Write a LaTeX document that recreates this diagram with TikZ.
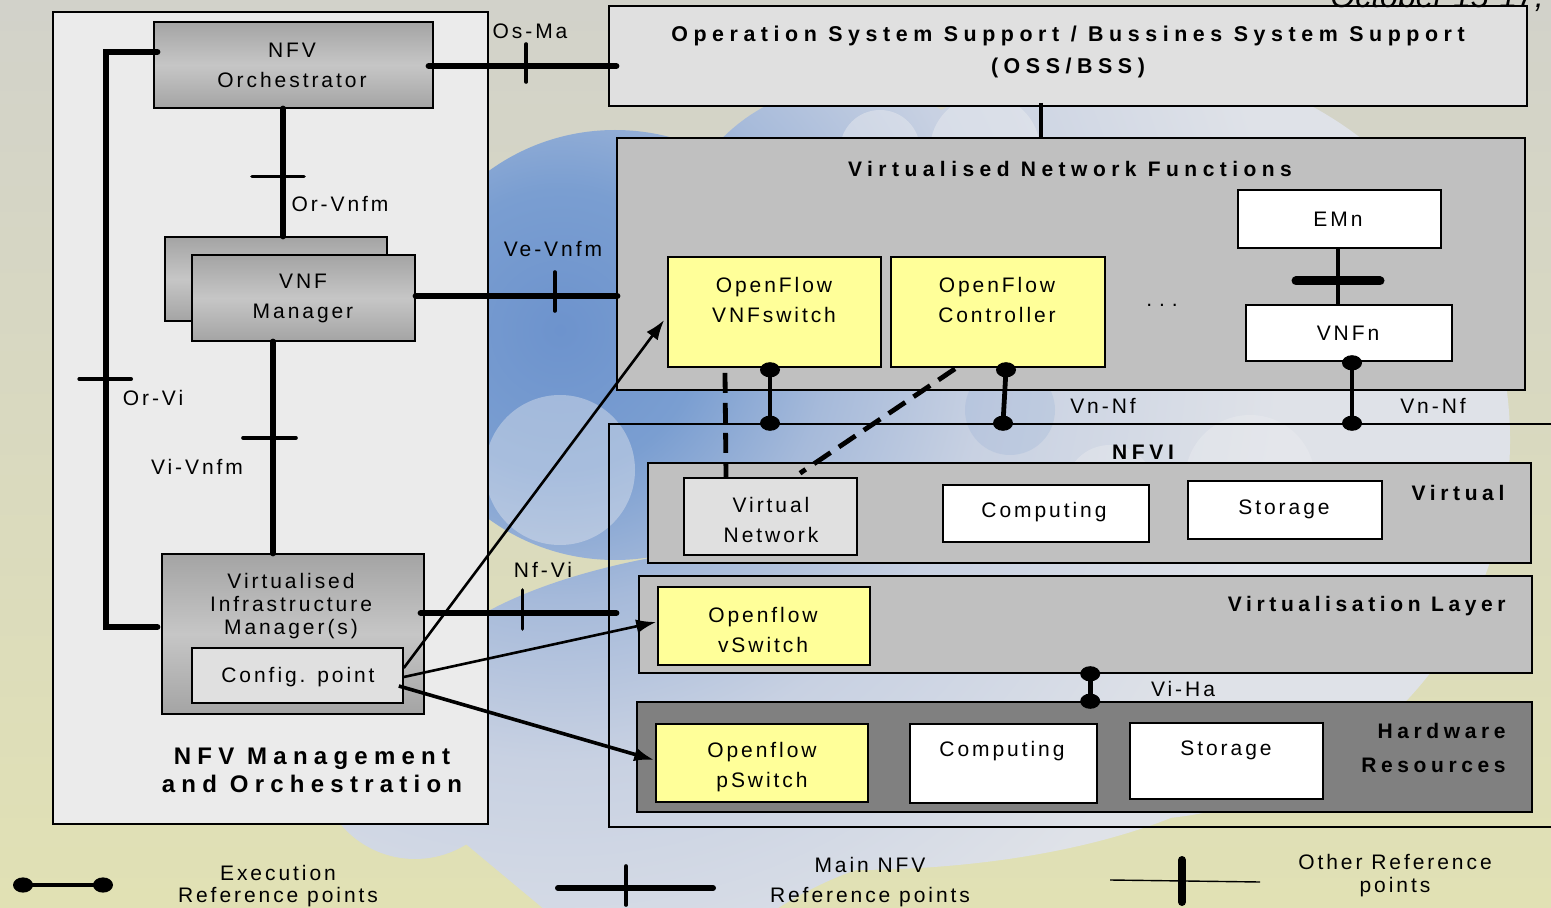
\documentclass[tikz,border=0pt]{standalone}
\usepackage{fontspec}
\setmainfont{Liberation Sans}[LetterSpace=14]
\newfontfamily\hdfont{Liberation Sans}[LetterSpace=22]
\newfontfamily\hdwide{Liberation Sans}[LetterSpace=26]
\newfontfamily\datefont{Liberation Sans Italic}
\usetikzlibrary{fit,calc,arrows.meta}

\definecolor{bgtop}{HTML}{D2D2CA}
\definecolor{bgbot}{HTML}{E1E1B4}
\definecolor{cloudD}{HTML}{6D93CD}
\definecolor{cloudD2}{HTML}{7A9ED1}
\definecolor{cloudM}{HTML}{A6BADA}
\definecolor{cloudL}{HTML}{C8D1E2}
\definecolor{cloudR}{HTML}{DFE2E8}
\definecolor{puff}{HTML}{ECEDF0}
\definecolor{panel}{HTML}{EBEBEB}
\definecolor{lightbox}{HTML}{E0E0E0}
\definecolor{midgray}{HTML}{C0C0C0}
\definecolor{hwgray}{HTML}{808080}
\definecolor{ofyellow}{HTML}{FFFF99}
\definecolor{mgrA}{HTML}{A4A4A4}
\definecolor{mgrB}{HTML}{C6C6C6}

% concentric colours around the darkest part of the cloud (radii in real size)
\pgfdeclareradialshading{cloudshade}{\pgfpoint{0bp}{0bp}}{%
  color(0bp)=(cloudD); color(70bp)=(cloudD2); color(135bp)=(cloudM);
  color(215bp)=(cloudL); color(360bp)=(cloudR); color(600bp)=(cloudR)}

\newcommand\execlink[3][2.4pt]{%
  \draw[line width=#1] (#2) -- (#3);
  \fill (#2) ellipse[x radius=5pt, y radius=3.8pt];
  \fill (#3) ellipse[x radius=5pt, y radius=3.8pt];}

\tikzset{
  box/.style={draw=black, line width=0.8pt, inner sep=0pt},
  mgr/.style={box, top color=mgrA, bottom color=mgrA, middle color=mgrB},
  lbl/.style={font=\fontsize{10.5}{15}\selectfont, align=center, inner sep=0pt},
  ttl/.style={font=\hdfont\bfseries\fontsize{10.5}{16}\selectfont, align=center, inner sep=0pt},
  wttl/.style={ttl, font=\hdwide\bfseries\fontsize{10.5}{16}\selectfont},
  mainlink/.style={line width=3.2pt, line cap=round},
  mtick/.style={line width=1.8pt, line cap=round},
  dsh/.style={line width=2.4pt, dash pattern=on 10pt off 5pt},
  cfgarrow/.style={line width=1.3pt, -{Latex[length=10pt,width=7pt]}},
}

\begin{document}
\begin{tikzpicture}[x=0.5pt,y=-0.5pt]
\useasboundingbox (0,0) rectangle (1551,908);

% backdrop and cloud
\shade[top color=bgtop, bottom color=bgbot] (0,0) rectangle (1551,908);
\begin{scope}
  \clip
    (615,345) circle[radius=215]
    (850,265) circle[radius=180]
    (1110,260) circle[radius=185]
    (1130,440) circle[radius=380]
    (850,705) ellipse[x radius=440, y radius=165]
    (415,762) circle[radius=97]
    (455,780) -- (935,780) -- (935,853) .. controls (880,858) and (830,875) .. (775,910)
    -- (545,910) -- (455,835) -- cycle;
  \node[inner sep=0pt] (cloud) at (560,330) {\pgfuseshading{cloudshade}};
  \fill[puff, opacity=0.4] (560,470) circle[radius=75];
  \fill[puff, opacity=0.45] (880,150) circle[radius=40] (985,150) circle[radius=55];
  \fill[puff, opacity=0.4] (1250,480) circle[radius=65] (1110,490) circle[radius=45];
  \fill[cloudD, opacity=0.15] (1010,410) circle[radius=45];
\end{scope}

% management and orchestration block
\node[box, fill=panel, fit={(53,12) (488,824)}] (mano) {};
\node[mgr, fit={(154,22) (433,108)}] (orch) {};
\node[lbl] (orcht) at (292,65) {NFV\\Orchestrator};
\node[mgr, fit={(165,237) (387,321)}] (vnfmb) {};
\node[mgr, fit={(192,255) (415,341)}] (vnfm) {};
\node[lbl] (vnfmt) at (303,298) {VNF\\Manager};
\node[mgr, fit={(162,554) (424,714)}] (vim) {};
\node[lbl, font=\fontsize{10.5}{11.5}\selectfont] (vimt) at (291,606) {Virtualised\\Infrastructure\\Manager(s)};
\node[box, fill=lightbox, fit={(192,648) (403,703)}] (cfg) {};
\node[lbl] (cfgt) at (298,677) {Config. point};
\node[wttl, font=\hdwide\bfseries\fontsize{12}{14}\selectfont] (manot) at (312,770) {NFV Management\\and Orchestration};

% OSS/BSS
\node[box, fill=lightbox, fit={(609,6) (1527,106)}] (oss) {};
\node[wttl, font=\hdwide\bfseries\fontsize{10.7}{16}\selectfont] (osst) at (1068,52) {Operation System Support / Bussines System Support\\(OSS/BSS)};

% virtualised network functions
\node[box, fill=midgray, fit={(617,138) (1525,390)}] (vnf) {};
\node[wttl] (vnft) at (1070,169) {Virtualised Network Functions};
\node[box, fill=ofyellow, fit={(668,257) (881,367)}] (vnfsw) {};
\node[lbl] (vnfswt) at (774,300) {OpenFlow\\VNFswitch};
\node[box, fill=ofyellow, fit={(891,257) (1105,367)}] (ctrl) {};
\node[lbl] (ctrlt) at (997,300) {OpenFlow\\Controller};
\node[lbl] (dots) at (1162,305) {.\,\,.\,\,.};
\node[box, fill=white, fit={(1238,190) (1441,248)}] (emn) {};
\node[lbl] (emnt) at (1338,219) {EMn};
\node[box, fill=white, fit={(1246,305) (1452,361)}] (vnfn) {};
\node[lbl] (vnfnt) at (1348,333) {VNFn};

% NFVI
\node[box, fit={(609,424) (1575,827)}] (nfvi) {};
\node[ttl] (nfvit) at (1143,452) {NFVI};
\node[box, fill=midgray, fit={(648,463) (1531,563)}] (virt) {};
\node[ttl] (virtt) at (1458,493) {Virtual};
\node[box, fill=lightbox, fit={(684,478) (857,555)}] (vnet) {};
\node[lbl] (vnett) at (771,520) {Virtual\\Network};
\node[box, fill=white, fit={(943,485) (1149,542)}] (vcomp) {};
\node[lbl] (vcompt) at (1044,512) {Computing};
\node[box, fill=white, fit={(1188,481) (1382,539)}] (vstor) {};
\node[lbl] (vstort) at (1284,509) {Storage};

\node[box, fill=midgray, fit={(639,576) (1532,673)}] (vl) {};
\node[ttl, anchor=east] (vlt) at (1506,606) {Virtualisation Layer};
\node[box, fill=ofyellow, fit={(658,587) (870,665)}] (vsw) {};
\node[lbl] (vswt) at (763,630) {Openflow\\vSwitch};

\node[box, fill=hwgray, fit={(637,702) (1532,812)}] (hw) {};
\node[ttl, anchor=east, align=right, font=\hdfont\bfseries\fontsize{10.5}{17}\selectfont] (hwt) at (1506,748) {Hardware\\Resources};
\node[box, fill=ofyellow, fit={(656,724) (868,802)}] (psw) {};
\node[lbl] (pswt) at (762,767) {Openflow\\pSwitch};
\node[box, fill=white, fit={(910,724) (1097,803)}] (hcomp) {};
\node[lbl] (hcompt) at (1002,751) {Computing};
\node[box, fill=white, fit={(1130,723) (1323,799)}] (hstor) {};
\node[lbl] (hstort) at (1226,750) {Storage};

% main reference points
\draw[mainlink] ($(orch.east)+(-5,1)$) -- ($(orch.east -| oss.west)+(8,1)$) coordinate[pos=0.52] (osmaT);
\draw[mtick] ($(osmaT)+(0,-22)$) -- ($(osmaT)+(0,16)$);
\draw[mainlink] ($(vnfm.east)+(0,-2)$) -- ($(vnfm.east -| vnf.west)+(1,-2)$) coordinate[pos=0.69] (vevT);
\draw[mtick] ($(vevT)+(0,-24)$) -- ($(vevT)+(0,15)$);
\draw[mainlink] ($(vim.east)+(-4,-21)$) -- ($(vim.east -| nfvi.west)+(8,-21)$) coordinate[pos=0.52] (nfviT);
\draw[mtick] ($(nfviT)+(0,-23)$) -- ($(nfviT)+(0,16)$);
\coordinate (orvnA) at ($(orch.south)+(-10.5,0)$);
\draw[mainlink] (orvnA) -- (orvnA |- vnfmb.north) coordinate[pos=0.53] (orvnT);
\draw[mtick] ($(orvnT)+(-31,0)$) -- ($(orvnT)+(21,0)$);
\coordinate (vivnA) at ($(vnfm.south)+(-30.5,0)$);
\draw[mainlink] (vivnA) -- (vivnA |- vim.north) coordinate[pos=0.455] (vivnT);
\draw[mtick] ($(vivnT)+(-30,0)$) -- ($(vivnT)+(23,0)$);
\draw[mainlink] ($(orch.west)+(4,-13)$) -- ++(-51,0) |- ($(vim.west)+(-4,-7)$);
\coordinate (orviT) at ($(orch.west)+(-47,314)$);
\draw[mtick] ($(orviT)+(-27,0)$) -- ($(orviT)+(25,0)$);

% other reference points
\coordinate (ossv) at ($(oss.south)+(-27,-4)$);
\draw[line width=2pt] (ossv) -- (ossv |- vnf.north);
\coordinate (emA) at ($(emn.south)+(-1.5,0)$);
\draw[line width=2pt] (emA) -- (emA |- vnfn.north) coordinate[pos=0.58] (emT);
\draw[line width=4.5pt, line cap=round] ($(emT)+(-42,0)$) -- ($(emT)+(42,0)$);

% execution reference points
\coordinate (x1a) at ($(vnfsw.south)+(-4.5,2)$);
\coordinate (x1b) at (x1a |- nfvi.north);
\coordinate (x2a) at ($(ctrl.south)+(8,2)$);
\coordinate (x2b) at ($(ctrl.south |- nfvi.north)+(5,0)$);
\coordinate (x3a) at ($(vnfn.south)+(3,1)$);
\coordinate (x3b) at (x3a |- nfvi.north);
\coordinate (x4a) at ($(vl.south west)+(452,0)$);
\coordinate (x4b) at (x4a |- hw.north);
\execlink{x1a}{x1b}
\execlink{x2a}{x2b}
\execlink{x3a}{x3b}
\execlink{x4a}{x4b}

% OpenFlow control paths
\draw[dsh] ($(vnfsw.south)+(-49.5,5)$) -- ($(vnet.north)+(-44.5,0)$);
\draw[dsh] ($(ctrl.south)+(-43,1)$) -- ($(vnet.north)+(29.5,-4)$);
\draw[cfgarrow] ($(cfg.east)+(0,-7.5)$) -- ($(vnfsw.west)+(-3,8)$);
\draw[cfgarrow] ($(cfg.east)+(0,1.5)$) -- ($(vsw.west)+(-1,-4)$);
\draw[cfgarrow, line width=1.8pt] ($(cfg.east)+(-5,10.5)$) -- ($(psw.west)+(-1,-3)$);

% reference point names
\node[lbl] (osma) at (530,31) {Os-Ma};
\node[lbl] (orvnfm) at (340,204) {Or-Vnfm};
\node[lbl] (vevnfm) at (553,249) {Ve-Vnfm};
\node[lbl] (orvi) at (153,398) {Or-Vi};
\node[lbl] (vivnfm) at (197,467) {Vi-Vnfm};
\node[lbl] (nfvil) at (543,570) {Nf-Vi};
\node[lbl] (vnnf1) at (1103,406) {Vn-Nf};
\node[lbl] (vnnf2) at (1433,406) {Vn-Nf};
\node[lbl] (viha) at (1183,689) {Vi-Ha};

% legend
\coordinate (le1) at (23,885);
\coordinate (le2) at (103,885);
\execlink[1.6pt]{le1}{le2}
\node[lbl, font=\fontsize{10.5}{11}\selectfont] (lexec) at (278,886) {Execution\\Reference points};
\coordinate (lm1) at (558,888);
\coordinate (lm2) at (713,888);
\draw[line width=3pt, line cap=round] (lm1) -- (lm2);
\draw[line width=1.8pt, line cap=round] (626,866) -- (626,905);
\node[lbl] (lmain) at (870,882) {Main NFV\\Reference points};
\coordinate (lo1) at (1110,880);
\coordinate (lo2) at (1260,882);
\draw[line width=0.7pt] (lo1) -- (lo2);
\draw[line width=4pt, line cap=round] (1182,860) -- (1182,902);
\node[lbl, font=\fontsize{10.5}{11.5}\selectfont] (lother) at (1395,876) {Other Reference\\points};

% event date along the top edge
\node[font=\datefont\fontsize{16}{16}\selectfont, anchor=base west, inner sep=0pt] (date) at (1330,8) {October 15-17, 2013};
\end{tikzpicture}
\end{document}
